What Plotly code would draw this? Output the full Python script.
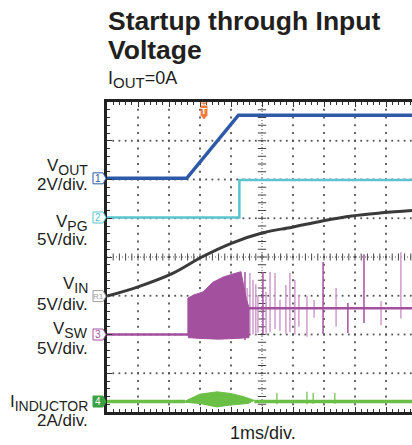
import plotly.graph_objects as go
import numpy as np

# ---- data (x in time divisions, 1 ms/div; y in screen divisions) ----
vout_t = [0.0, 2.57, 4.24, 9.84]
vout_v = [6.03, 6.03, 7.66, 7.66]

vpg_t = [0.0, 4.27, 4.27, 9.84]
vpg_v = [5.02, 5.02, 5.99, 5.99]

vin_t = [0.0, 1.0, 2.1, 3.06, 4.03, 5.0, 5.97, 6.94, 7.9, 8.87, 9.84]
vin_v = [2.99, 3.23, 3.57, 4.00, 4.36, 4.62, 4.77, 4.93, 5.06, 5.14, 5.20]

vsw_t = [0.0, 2.61, None, 4.55, 9.84]
vsw_v = [2.0, 2.0, None, 2.68, 2.68]

burst_t = [2.61, 2.61, 2.8, 3.1, 3.42, 3.74, 4.06, 4.32, 4.40, 4.50, 4.58, 4.58, 4.2, 3.6, 3.0, 2.61]
burst_v = [2.0, 2.94, 3.02, 3.10, 3.35, 3.48, 3.56, 3.62, 3.30, 2.90, 2.70, 1.92, 1.90, 1.88, 1.90, 1.92]

spike_dark_t = [4.45, 5.03, 6.97, 7.77, 8.29]
spike_dark_hi = [3.61, 3.61, 3.87, 2.81, 4.07]
spike_dark_lo = [1.86, 2.01, 2.01, 2.04, 2.30]

spike_light_t = [4.52, 4.61, 4.71, 4.80, 4.87, 5.13, 5.26, 5.42, 5.58, 5.77, 5.90, 6.06, 6.19,
                 6.45, 6.68, 7.39, 8.84, 9.48]
spike_light_hi = [3.20, 3.59, 3.41, 3.30, 3.00, 3.10, 3.61, 3.59, 2.90, 3.28, 3.59, 3.41, 3.02,
                  3.00, 2.89, 3.20, 2.86, 4.12]
spike_light_lo = [1.95, 2.01, 2.00, 2.00, 2.05, 2.00, 2.06, 2.14, 2.10, 2.01, 2.06, 2.00, 2.20,
                  1.94, 2.43, 2.20, 2.24, 2.41]

iind_t = [0.0, 2.52, None, 4.75, 9.84]
iind_v = [0.27, 0.27, None, 0.27, 0.27]
bump_t = [2.52, 2.99, 3.55, 3.97, 4.39, 4.75, 4.55, 3.97, 3.55, 2.99, 2.52]
bump_v = [0.28, 0.46, 0.52, 0.48, 0.40, 0.30, 0.22, 0.18, 0.13, 0.22, 0.25]
gspike_t = [5.48, 6.45, 6.65, 7.35]
gspike_hi = [0.49, 0.52, 0.49, 0.49]
gspike_lo = [0.20, 0.20, 0.21, 0.21]

trigger_t = 3.13

X_MAX = 305 / 31.0
FONT = "Liberation Sans, Arial, sans-serif"
TXT = "#231f20"
BLUE = "#2d59a8"
CYAN = "#5ac4cf"
GRAYTR = "#3a3a3a"
PURPLE = "#a3509f"
PURPLE_L = "#cf9ccc"
GREEN = "#6abf45"
ORANGE = "#f07a3a"

PL, PT, PW, PH = 107, 102, 305, 310


def px(x):
    return (x - PL) / PW


def py(y):
    return (PT + PH - y) / PH


def segs(ts, his, los):
    xs, ys = [], []
    for t, h, l in zip(ts, his, los):
        xs += [t, t, None]
        ys += [l, h, None]
    return xs, ys


def sub(main, s, size):
    return f"{main}<sub><span style='font-size:{size}px'>{s}</span></sub>"


fig = go.Figure()

# dotted graticule
gx, gy = [], []
minor_x = np.arange(0.2, X_MAX, 0.2)
minor_y = np.arange(0.2, 8.0, 0.2)
for yl in [1, 2, 3, 5, 6, 7]:
    gx += list(minor_x)
    gy += [yl] * len(minor_x)
for xl in [1, 2, 3, 4, 6, 7, 8, 9]:
    gx += [xl] * len(minor_y)
    gy += list(minor_y)
fig.add_trace(go.Scatter(x=gx, y=gy, mode="markers", hoverinfo="skip",
                         marker=dict(symbol="square", size=1.8, color="#555555", line=dict(width=0))))
# center cross axes with ticks
fig.add_trace(go.Scatter(x=list(minor_x), y=[4] * len(minor_x), mode="markers", hoverinfo="skip",
                         marker=dict(symbol="line-ns", size=5, line=dict(width=1, color="#444444"))))
fig.add_trace(go.Scatter(x=[5] * len(minor_y), y=list(minor_y), mode="markers", hoverinfo="skip",
                         marker=dict(symbol="line-ew", size=6, line=dict(width=1, color="#444444"))))
fig.add_trace(go.Scatter(x=[0, X_MAX], y=[4, 4], mode="lines", hoverinfo="skip",
                         line=dict(color="#555555", width=1, dash="1px,2px")))
fig.add_trace(go.Scatter(x=[5, 5], y=[0, 8], mode="lines", hoverinfo="skip",
                         line=dict(color="#555555", width=1, dash="1px,2px")))

# waveforms
fig.add_trace(go.Scatter(x=vin_t, y=vin_v, mode="lines", line=dict(color=GRAYTR, width=3, shape="spline")))
fig.add_trace(go.Scatter(x=vpg_t, y=vpg_v, mode="lines", line=dict(color=CYAN, width=2.5)))
fig.add_trace(go.Scatter(x=vout_t, y=vout_v, mode="lines", line=dict(color=BLUE, width=3.5)))

lx, ly = segs(spike_light_t, spike_light_hi, spike_light_lo)
fig.add_trace(go.Scatter(x=lx, y=ly, mode="lines", line=dict(color=PURPLE_L, width=1.5)))
fig.add_trace(go.Scatter(x=vsw_t, y=vsw_v, mode="lines", line=dict(color=PURPLE, width=2.5)))
fig.add_trace(go.Scatter(x=burst_t, y=burst_v, mode="lines", fill="toself", fillcolor=PURPLE,
                         line=dict(color=PURPLE, width=1)))
dx, dy = segs(spike_dark_t, spike_dark_hi, spike_dark_lo)
fig.add_trace(go.Scatter(x=dx, y=dy, mode="lines", line=dict(color=PURPLE, width=1.5)))

fig.add_trace(go.Scatter(x=iind_t, y=iind_v, mode="lines", line=dict(color=GREEN, width=3.5)))
fig.add_trace(go.Scatter(x=bump_t, y=bump_v, mode="lines", fill="toself", fillcolor=GREEN,
                         line=dict(color=GREEN, width=1)))
ggx, ggy = segs(gspike_t, gspike_hi, gspike_lo)
fig.add_trace(go.Scatter(x=ggx, y=ggy, mode="lines", line=dict(color=GREEN, width=1.2)))

shapes = []
annotations = []

# trigger marker
shapes.append(dict(type="path", xref="x", yref="y", fillcolor=ORANGE, line=dict(width=0),
                   path=f"M {trigger_t-0.13},7.99 L {trigger_t+0.13},7.99 L {trigger_t},7.93 Z"))
shapes.append(dict(type="path", xref="x", yref="y", fillcolor=ORANGE, line=dict(width=0),
                   path=(f"M {trigger_t-0.11},7.91 L {trigger_t+0.11},7.91 L {trigger_t+0.11},7.66 "
                         f"L {trigger_t},7.55 L {trigger_t-0.11},7.66 Z")))
annotations.append(dict(x=trigger_t, y=7.77, xref="x", yref="y", text="<b>T</b>", showarrow=False,
                        xanchor="center", yanchor="middle",
                        font=dict(family=FONT, size=9, color="white")))

# channel tags
tags = [(vout_v[0], "1", BLUE, False), (vpg_v[0], "2", CYAN, False), (vin_v[0], "R1", "#a0a0a0", False),
        (vsw_v[0], "3", PURPLE, False), (iind_v[0], "4", "#3aa043", True)]
for lvl, lab, col, filled in tags:
    shapes.append(dict(type="path", xref="paper", yref="paper", xsizemode="pixel", ysizemode="pixel",
                       xanchor=0, yanchor=lvl / 8.0,
                       path="M -14,-5.5 L -4,-5.5 L -1,0 L -4,5.5 L -14,5.5 Z",
                       fillcolor=col if filled else "white", line=dict(color=col, width=1)))
    annotations.append(dict(x=0, y=lvl / 8.0, xref="paper", yref="paper", xshift=-9, text=lab,
                            showarrow=False, xanchor="center", yanchor="middle",
                            font=dict(family=FONT, size=8 if len(lab) > 1 else 10,
                                      color="white" if filled else col)))

# left labels (pixel positions of text centres)
labels = [(sub("V", "OUT", 14), 167), ("2V/div.", 184), (sub("V", "PG", 14), 223), ("5V/div.", 239),
          (sub("V", "IN", 14), 285), ("5V/div.", 304), (sub("V", "SW", 14), 330), ("5V/div.", 348),
          (sub("I", "INDUCTOR", 14), 403), ("2A/div.", 420)]
for txt, yy in labels:
    annotations.append(dict(x=px(90), y=py(yy), xref="paper", yref="paper", text=txt, showarrow=False,
                            xanchor="right", yanchor="middle", font=dict(family=FONT, size=17, color=TXT)))

# titles
annotations.append(dict(x=px(106), y=py(21), xref="paper", yref="paper", text="<b>Startup through Input</b>",
                        showarrow=False, xanchor="left", yanchor="middle",
                        font=dict(family=FONT, size=26.5, color=TXT)))
annotations.append(dict(x=px(106), y=py(50), xref="paper", yref="paper", text="<b>Voltage</b>",
                        showarrow=False, xanchor="left", yanchor="middle",
                        font=dict(family=FONT, size=26.5, color=TXT)))
annotations.append(dict(x=px(106), y=py(80), xref="paper", yref="paper", text=sub("I", "OUT", 15) + "=0A",
                        showarrow=False, xanchor="left", yanchor="middle",
                        font=dict(family=FONT, size=18, color=TXT)))
annotations.append(dict(x=px(263), y=py(433), xref="paper", yref="paper", text="1ms/div.",
                        showarrow=False, xanchor="center", yanchor="middle",
                        font=dict(family=FONT, size=18, color=TXT)))

axis_common = dict(showgrid=False, zeroline=False, showticklabels=False, showline=True,
                   linecolor="#222222", linewidth=3, ticks="inside", ticklen=5, tickwidth=1,
                   tickcolor="#333333", tick0=0, dtick=1,
                   minor=dict(ticks="inside", ticklen=3, tickwidth=1, tickcolor="#333333", dtick=0.2))

fig.update_layout(
    width=412, height=445,
    margin=dict(l=PL, r=0, t=PT, b=445 - PT - PH),
    paper_bgcolor="white", plot_bgcolor="white",
    showlegend=False,
    xaxis=dict(range=[0, X_MAX], mirror="allticks", **axis_common),
    yaxis=dict(range=[0, 8], mirror=False, **axis_common),
    shapes=shapes,
    annotations=annotations,
)

fig.write_html("out.html", config={"displayModeBar": False},
               post_script="document.body.style.margin='0';document.body.style.overflow='hidden';")
